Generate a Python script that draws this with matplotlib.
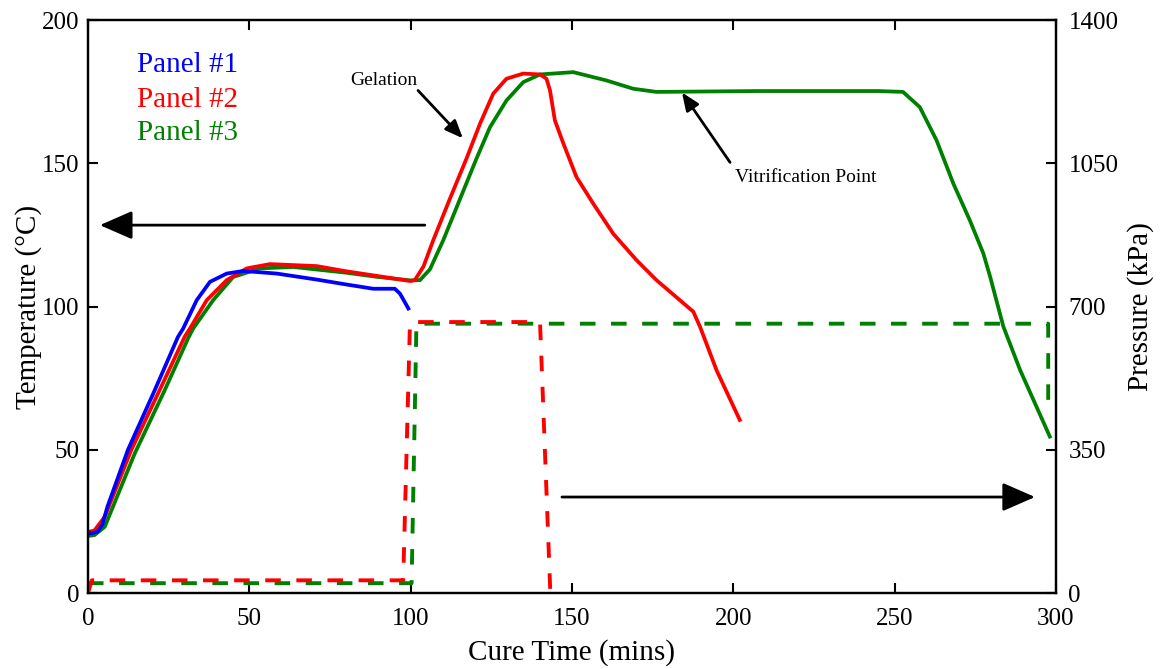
import numpy as np
from matplotlib import pyplot as plt

plt.rcParams['font.family'] = ['Liberation Serif', 'DejaVu Serif']

# 温度曲线 (°C)
blue_t = [0, 1.5, 3, 4.5, 6, 12.4, 20.7, 27.9, 29.5, 33.7, 37.8, 43, 48.1, 58.5, 70.9, 80, 88.4, 95.1, 96.7, 99.3]
blue_T = [20.8, 20.9, 21.4, 24, 30, 50, 70.8, 89.4, 92.3, 102.2, 108.6, 111.5, 112.4, 111.5, 109.4, 107.7, 106.2, 106.2, 104.5, 99.3]

red_t = [0, 2, 5.2, 13.4, 21.7, 30, 31.6, 36.8, 43, 49.2, 56.4, 70.9, 80, 90, 99.8, 101.3, 104, 107,
         112.2, 117.3, 121.5, 125.6, 129.7, 134.9, 140.1, 142.1, 143.2, 144.7, 147.3, 151.4, 156.6, 162.8,
         170, 176.2, 187.6, 189.7, 194.8, 202]
red_T = [21.3, 21.8, 26.6, 49.9, 69.6, 89.5, 92.3, 102.2, 109.2, 113.3, 114.8, 114.1, 112.3, 110.6, 108.9, 109.2, 114, 123.1,
         137.7, 151.6, 163.8, 174.3, 179.5, 181.3, 181, 179.5, 175.4, 165, 157, 145.2, 135.9, 125.4,
         116.2, 109.2, 98.2, 92.9, 77.8, 60.4]

green_t = [0, 2, 5.2, 14.5, 23.8, 31, 32.6, 38.8, 45, 53.3, 63.6, 80, 90, 100, 102.9, 106, 110.1,
           115.3, 120.4, 124.6, 129.7, 134.9, 140.1, 150.4, 160.7, 169, 176.2, 207, 245, 252.6, 257.8,
           263, 268.2, 273.3, 277.5, 279.6, 283.7, 288.9, 298.1]
green_T = [19.9, 20.2, 23.1, 48.7, 70.8, 88.8, 92.3, 102.2, 110.3, 113.3, 113.8, 111.8, 110.3, 109.1, 109.2, 113, 123.1,
           137.5, 151.6, 162.6, 171.9, 178.3, 181, 181.8, 178.9, 176, 174.9, 175.2, 175.2, 174.9, 169.6,
           158, 142.9, 130.1, 118.5, 110.4, 93, 77.8, 54.6]

# 压力曲线 (kPa)
red_p_t = [0, 1.2, 97.7, 99.8, 140.1, 143.3]
red_p = [0, 31, 31, 662, 662, 0]
green_p_t = [0, 100.3, 101.8, 297.6, 297.6]
green_p = [24, 24, 658, 658, 459]

fig = plt.figure(figsize=(11.65, 6.69), dpi=100)
ax = fig.add_axes([0.0755, 0.1136, 0.8309, 0.8565])
ax2 = ax.twinx()

ax.plot(green_t, green_T, color='#008000', lw=2.7)
ax.plot(red_t, red_T, color='#ff0000', lw=2.7)
ax.plot(blue_t, blue_T, color='#0000ff', lw=2.7)

ax2.plot(green_p_t, green_p, color='#008000', lw=2.8, dashes=(4, 4))
ax2.plot(red_p_t, red_p, color='#ff0000', lw=2.8, dashes=(4, 4))

ax.set_xlim(0, 300)
ax.set_ylim(0, 200)
ax2.set_ylim(0, 1400)
ax.set_xticks(np.arange(0, 301, 50))
ax.set_yticks(np.arange(0, 201, 50))
ax2.set_yticks(np.arange(0, 1401, 350))

ax.set_xlabel('Cure Time (mins)', fontsize=21, labelpad=6)
ax.set_ylabel('Temperature (°C)', fontsize=21, labelpad=0)
ax2.set_ylabel('Pressure (kPa)', fontsize=21, labelpad=6)

ax.tick_params(direction='in', length=7, width=1.5, labelsize=18, top=True, right=False, pad=6)
ax.tick_params(axis='x', pad=11)
ax2.tick_params(direction='in', length=7, width=1.5, labelsize=18, pad=9)
for a in (ax, ax2):
    for s in a.spines.values():
        s.set_linewidth(1.6)

# 图例文字
ax.text(15.2, 184.2, 'Panel #1', color='#0000ff', fontsize=21, va='center')
ax.text(15.2, 172, 'Panel #2', color='#ff0000', fontsize=21, va='center')
ax.text(15.2, 160.4, 'Panel #3', color='#008000', fontsize=21, va='center')

# 大箭头
big = dict(arrowstyle='-|>,head_length=0.8,head_width=0.35', mutation_scale=25,
           color='black', lw=2, shrinkA=0, shrinkB=0)
ax.annotate('', xy=(3.7, 128.4), xytext=(104.4, 128.4), arrowprops=big)
ax.annotate('', xy=(293.5, 33.5), xytext=(146.9, 33.5), arrowprops=big)

# 注释
small = dict(arrowstyle='-|>,head_length=0.6,head_width=0.25', mutation_scale=18,
             color='black', lw=2, shrinkA=0, shrinkB=0)
ax.text(91.7, 178.9, 'Gelation', fontsize=14, ha='center', va='center')
ax.annotate('', xy=(116.2, 158.7), xytext=(102.3, 175.4), arrowprops=small)
ax.text(222.5, 145.1, 'Vitrification Point', fontsize=14, ha='center', va='center')
ax.annotate('', xy=(184.1, 174.7), xytext=(199, 150.3), arrowprops=small)

plt.savefig('out.png', dpi=100)
